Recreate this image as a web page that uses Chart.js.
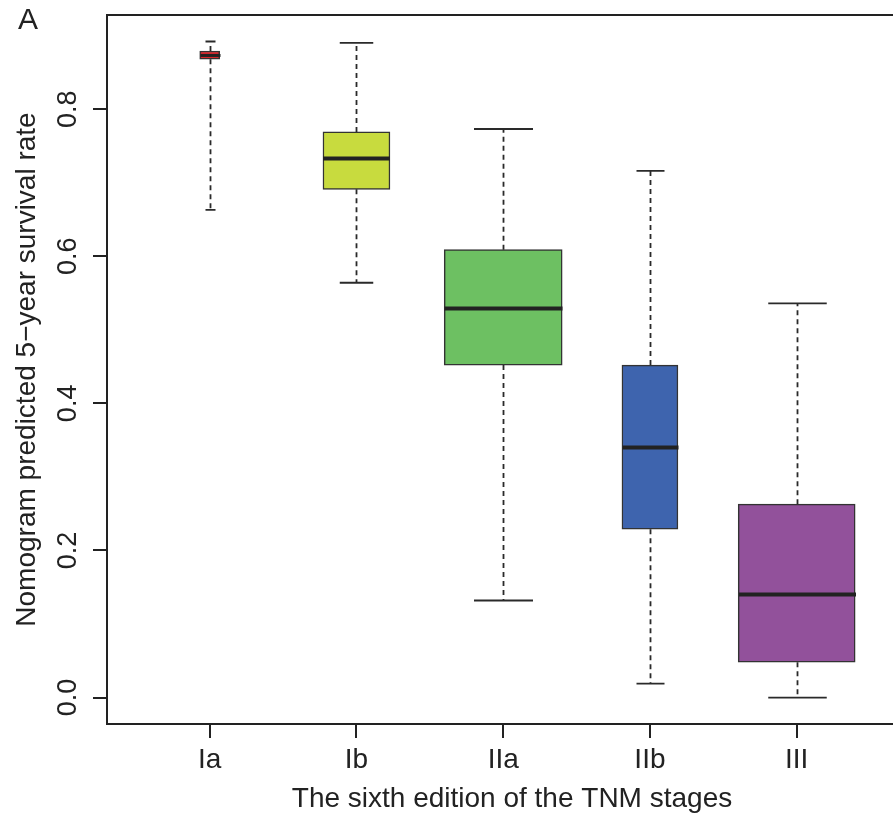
<!DOCTYPE html>
<html>
<head>
<meta charset="utf-8">
<script src="https://cdn.jsdelivr.net/npm/chart.js@4/dist/chart.umd.min.js"></script>
<style>
  body { margin: 0; background: #fff; overflow: hidden; }
  #wrap { position: relative; width: 893px; height: 818px; overflow: hidden; }
  #panel { position: absolute; left: 18px; top: 2px; font: 30px "Liberation Sans", Arial, sans-serif; color: #222; }
</style>
</head>
<body>
<div id="wrap">
  <div id="panel">A</div>
  <canvas id="mycanvas" width="917" height="818"></canvas>
</div>
<script>
// data
var stages = ["Ia", "Ib", "IIa", "IIb", "III"];
var whiskerLow  = [0.663, 0.564, 0.132, 0.019, 0.000];
var q1          = [0.868, 0.691, 0.452, 0.229, 0.048];
var median      = [0.873, 0.733, 0.529, 0.340, 0.140];
var q3          = [0.879, 0.769, 0.609, 0.452, 0.263];
var whiskerHigh = [0.892, 0.890, 0.773, 0.716, 0.536];
var yTicks = [0.0, 0.2, 0.4, 0.6, 0.8];

// styling
var boxColors = ["#D7262B", "#C8DB3E", "#6DC062", "#3E64AE", "#92519B"];
var boxWidths = [20, 67, 118, 56, 117];
var ink = "#222";
var fontFamily = "'Liberation Sans', Arial, sans-serif";

var datasets = [];
for (var i = 0; i < stages.length; i++) {
    datasets.push({
        label: stages[i],
        data: [{ x: i + 1, y: [q1[i], q3[i]] }],
        backgroundColor: boxColors[i],
        borderColor: "#333",
        borderWidth: 1.5,
        borderSkipped: false,
        barThickness: boxWidths[i],
        grouped: false
    });
}

// whiskers, caps, medians and the frame
var boxExtras = {
    id: "boxExtras",
    afterDatasetsDraw: function (chart) {
        var ctx = chart.ctx;
        var xs = chart.scales.x;
        var ys = chart.scales.y;
        ctx.save();
        for (var i = 0; i < stages.length; i++) {
            var cx = Math.round(xs.getPixelForValue(i + 1)) + 0.5;
            var half = boxWidths[i] / 2;

            ctx.strokeStyle = "#2a2a2a";
            ctx.lineWidth = 1.8;
            ctx.setLineDash([5, 4]);
            ctx.beginPath();
            ctx.moveTo(cx, ys.getPixelForValue(q3[i]));
            ctx.lineTo(cx, ys.getPixelForValue(whiskerHigh[i]));
            ctx.moveTo(cx, ys.getPixelForValue(q1[i]));
            ctx.lineTo(cx, ys.getPixelForValue(whiskerLow[i]));
            ctx.stroke();

            ctx.setLineDash([]);
            ctx.beginPath();
            ctx.moveTo(cx - half / 2, ys.getPixelForValue(whiskerHigh[i]));
            ctx.lineTo(cx + half / 2, ys.getPixelForValue(whiskerHigh[i]));
            ctx.moveTo(cx - half / 2, ys.getPixelForValue(whiskerLow[i]));
            ctx.lineTo(cx + half / 2, ys.getPixelForValue(whiskerLow[i]));
            ctx.stroke();

            ctx.strokeStyle = ink;
            ctx.lineWidth = (i === 0) ? 3 : 4;
            ctx.beginPath();
            ctx.moveTo(cx - half, ys.getPixelForValue(median[i]));
            ctx.lineTo(cx + half, ys.getPixelForValue(median[i]));
            ctx.stroke();
        }
        var a = chart.chartArea;
        ctx.strokeStyle = ink;
        ctx.lineWidth = 2;
        ctx.strokeRect(a.left, a.top, a.right - a.left, a.bottom - a.top);
        ctx.restore();
    }
};

var ctx = document.getElementById("mycanvas");
var myChart = new Chart(ctx, {
    type: "bar",
    data: { datasets: datasets },
    plugins: [boxExtras],
    options: {
        responsive: false,
        animation: false,
        devicePixelRatio: 1,
        layout: { padding: { top: 15, left: 0, right: 0, bottom: 0 } },
        plugins: { legend: { display: false }, tooltip: { enabled: false } },
        scales: {
            x: {
                type: "linear",
                offset: false,
                min: 0.3,
                max: 5.82,
                afterBuildTicks: function (scale) {
                    scale.ticks = stages.map(function (s, i) { return { value: i + 1 }; });
                },
                afterFit: function (scale) {
                    scale.height = 94;
                    scale.paddingLeft = 0;
                    scale.paddingRight = 0;
                },
                ticks: {
                    autoSkip: false,
                    maxRotation: 0,
                    padding: 5,
                    color: ink,
                    font: { family: fontFamily, size: 28 },
                    callback: function (value) { return stages[Math.round(value) - 1]; }
                },
                grid: { offset: false, drawOnChartArea: false, tickLength: 14, color: ink, lineWidth: 2 },
                border: { display: true, color: ink, width: 2 },
                title: {
                    display: true,
                    text: "The sixth edition of the TNM stages",
                    color: ink,
                    font: { family: fontFamily, size: 28 },
                    padding: { top: 0, bottom: 2 }
                }
            },
            y: {
                min: -0.0359,
                max: 0.928,
                afterBuildTicks: function (scale) {
                    scale.ticks = yTicks.map(function (v) { return { value: v }; });
                },
                afterFit: function (scale) {
                    scale.width = 107;
                    scale.paddingTop = 0;
                    scale.paddingBottom = 0;
                },
                ticks: {
                    minRotation: 90,
                    maxRotation: 90,
                    crossAlign: "center",
                    padding: 6,
                    color: ink,
                    font: { family: fontFamily, size: 27 },
                    callback: function (value) { return value.toFixed(1); }
                },
                grid: { drawOnChartArea: false, tickLength: 14, color: ink, lineWidth: 2 },
                border: { display: true, color: ink, width: 2 },
                title: {
                    display: true,
                    text: "Nomogram predicted 5\u2212year survival rate",
                    color: ink,
                    font: { family: fontFamily, size: 28 },
                    padding: { top: 10, bottom: 0 }
                }
            }
        }
    }
});
</script>
</body>
</html>
